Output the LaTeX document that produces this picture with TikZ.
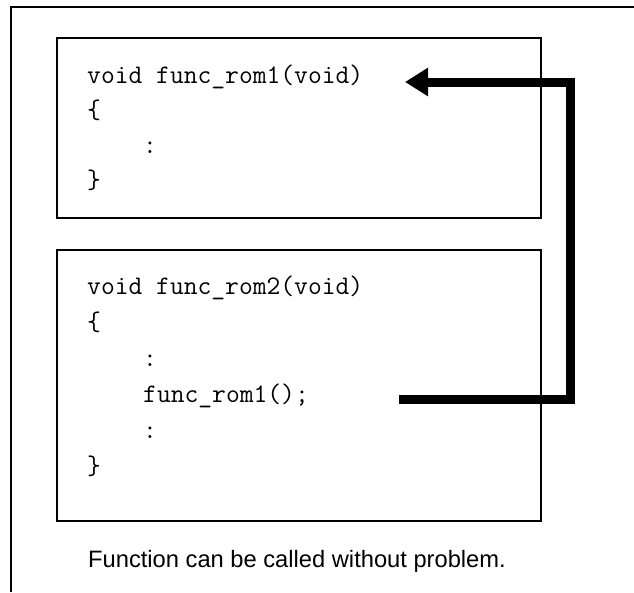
\documentclass[tikz,border=0pt]{standalone}
\usepackage{fontspec}
\setsansfont{Liberation Sans}
\usetikzlibrary{arrows.meta}
\begin{document}
\begin{tikzpicture}[x=1pt,y=-1pt,
  frameline/.style={line width=2pt},
  codebox/.style={draw,line width=2pt,minimum width=484pt,inner sep=0pt,anchor=north west},
  code/.style={font=\ttfamily\fontsize{26.8}{32}\selectfont,anchor=base west,inner sep=0pt},
  caption/.style={font=\sffamily\fontsize{23.7}{28}\selectfont,anchor=base west,inner sep=0pt},
  callarrow/.style={line width=9pt,line join=miter,-{Triangle[length=23pt,width=27pt]}}]
\useasboundingbox (0,0) rectangle (634,592);
% outer frame (left and top edges only)
\draw[frameline] (11,592) -- (11,7) -- (634,7);
% code boxes
\node[codebox,minimum height=180pt] (box1) at (56,37) {};
\node[codebox,minimum height=271pt] (box2) at (56,249) {};
% box 1 text
\node[code] (l11) at (87,83) {void func\_rom1(void)};
\node[code] (l12) at (87,118) {\{};
\node[code] (l13) at (143,153) {:};
\node[code] (l14) at (87,188) {\}};
% box 2 text
\node[code] (l21) at (87,294) {void func\_rom2(void)};
\node[code] (l22) at (87,330) {\{};
\node[code] (l23) at (143,366) {:};
\node[code] (l24) at (143,402) {func\_rom1();};
\node[code] (l25) at (143,438) {:};
\node[code] (l26) at (87,474) {\}};
% caption
\node[caption] (cap) at (88,567) {Function can be called without problem.};
% call arrow
\coordinate (src) at (399,399);
\coordinate (k1) at (570,399);
\coordinate (k2) at (570,82);
\coordinate (tgt) at (405,82);
\draw[callarrow] (src) -- (k1) -- (k2) -- (tgt);
\end{tikzpicture}
\end{document}
